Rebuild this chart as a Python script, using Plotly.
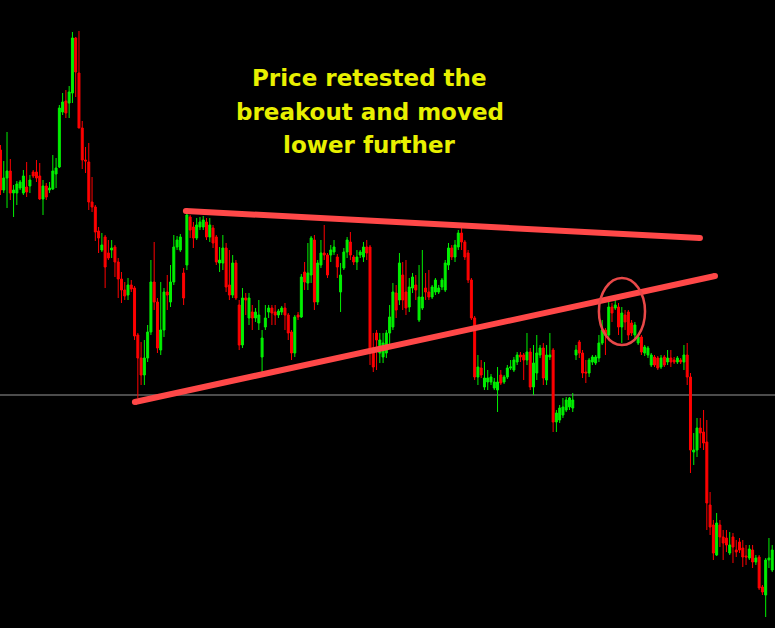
import plotly.graph_objects as go

# price in points, one candle per bar
open_ = [
    478, 438, 450, 457, 435, 435, 440, 435, 441, 442,
    456, 456, 452, 429, 442, 438, 439, 454, 461, 516,
    527, 525, 535, 590, 555, 500, 468, 466, 426, 421,
    397, 378, 391, 375, 378, 381, 366, 349, 338, 333,
    343, 340, 293, 270, 253, 270, 296, 346, 326, 278,
    298, 336, 326, 346, 381, 378, 355, 363, 411, 401,
    390, 401, 401, 406, 391, 400, 391, 365, 365, 380,
    343, 333, 365, 323, 283, 330, 310, 316, 310, 305,
    271, 301, 316, 320, 316, 313, 316, 320, 313, 296,
    275, 313, 311, 356, 345, 353, 388, 326, 363, 375,
    373, 373, 376, 371, 336, 360, 376, 386, 371, 366,
    373, 371, 381, 381, 280, 295, 275, 271, 275, 295,
    301, 335, 328, 353, 336, 321, 340, 343, 308, 320,
    340, 336, 331, 336, 336, 341, 338, 363, 380, 371,
    381, 395, 386, 375, 348, 310, 251, 260, 241, 246,
    246, 240, 238, 253, 246, 251, 260, 258, 266, 273,
    273, 268, 276, 241, 255, 273, 280, 248, 271, 278,
    206, 208, 213, 218, 221, 220, 273, 286, 275, 256,
    255, 266, 265, 270, 285, 298, 293, 321, 320, 321,
    301, 313, 316, 305, 293, 285, 291, 275, 273, 263,
    271, 270, 261, 271, 266, 270, 268, 266, 268, 266,
    273, 251, 176, 178, 200, 196, 186, 123, 103, 73,
    103, 91, 90, 75, 91, 78, 86, 80, 72, 70,
    78, 66, 71, 41, 33, 68, 58,
]
high = [
    483, 467, 496, 469, 443, 447, 448, 458, 466, 453,
    458, 468, 465, 448, 445, 446, 473, 470, 523, 535,
    538, 542, 596, 591, 597, 507, 481, 485, 451, 423,
    401, 395, 393, 388, 388, 383, 370, 356, 346, 350,
    348, 342, 295, 286, 288, 303, 368, 386, 330, 346,
    340, 353, 363, 393, 392, 394, 360, 416, 413, 406,
    410, 411, 412, 410, 410, 403, 393, 381, 393, 385,
    378, 373, 368, 328, 340, 335, 335, 323, 320, 328,
    298, 323, 323, 323, 323, 319, 322, 325, 315, 298,
    313, 316, 354, 366, 385, 392, 393, 368, 388, 403,
    375, 383, 388, 374, 365, 380, 391, 396, 373, 378,
    378, 386, 388, 383, 295, 298, 295, 295, 298, 323,
    345, 343, 375, 366, 368, 350, 355, 353, 363, 378,
    355, 358, 343, 350, 343, 350, 368, 385, 383, 388,
    398, 400, 388, 378, 350, 312, 273, 268, 266, 258,
    254, 250, 261, 258, 253, 263, 268, 271, 276, 276,
    275, 295, 280, 283, 293, 283, 285, 283, 295, 280,
    218, 223, 230, 231, 231, 235, 283, 288, 278, 268,
    270, 273, 273, 293, 308, 300, 328, 325, 330, 325,
    321, 318, 318, 308, 306, 293, 293, 283, 282, 275,
    273, 272, 273, 273, 278, 278, 271, 272, 270, 283,
    285, 255, 195, 210, 210, 218, 208, 136, 108, 115,
    108, 98, 98, 96, 95, 88, 90, 88, 83, 83,
    83, 73, 73, 43, 70, 90, 83,
]
low = [
    433, 435, 420, 428, 411, 423, 438, 433, 431, 435,
    450, 446, 428, 413, 428, 435, 438, 440, 460, 513,
    510, 510, 525, 531, 500, 459, 455, 418, 416, 387,
    375, 376, 340, 368, 370, 351, 330, 325, 328, 328,
    336, 288, 230, 243, 243, 266, 293, 318, 275, 273,
    291, 318, 321, 343, 378, 376, 323, 358, 390, 380,
    388, 398, 398, 388, 386, 380, 363, 356, 358, 336,
    328, 330, 328, 278, 280, 313, 303, 298, 306, 298,
    255, 298, 310, 303, 303, 310, 313, 298, 288, 268,
    271, 308, 310, 338, 338, 345, 318, 323, 360, 368,
    350, 366, 373, 350, 316, 358, 370, 368, 363, 358,
    370, 366, 368, 263, 256, 258, 265, 265, 270, 283,
    298, 310, 323, 318, 313, 316, 335, 328, 306, 318,
    328, 328, 329, 333, 334, 338, 336, 358, 368, 366,
    378, 378, 368, 345, 308, 248, 243, 250, 238, 238,
    243, 238, 216, 243, 244, 249, 258, 256, 263, 266,
    248, 263, 238, 233, 248, 270, 243, 243, 268, 196,
    196, 205, 210, 216, 218, 216, 268, 270, 250, 245,
    251, 263, 263, 266, 283, 273, 288, 306, 318, 293,
    285, 298, 288, 292, 290, 283, 273, 272, 270, 261,
    261, 258, 259, 261, 263, 261, 264, 264, 264, 258,
    243, 155, 163, 171, 180, 178, 98, 93, 68, 72,
    81, 68, 76, 73, 65, 71, 75, 61, 63, 68,
    60, 63, 38, 33, 11, 60, 56,
]
close = [
    438, 450, 457, 435, 438, 444, 446, 452, 436, 448,
    452, 450, 429, 442, 431, 440, 457, 460, 520, 526,
    515, 536, 590, 556, 500, 468, 467, 426, 421, 396,
    390, 383, 361, 370, 380, 366, 349, 338, 332, 343,
    339, 292, 270, 253, 270, 296, 346, 326, 280, 298,
    336, 333, 346, 381, 388, 391, 330, 413, 398, 390,
    403, 406, 408, 391, 403, 385, 366, 368, 380, 341,
    333, 365, 330, 283, 330, 328, 330, 310, 316, 313,
    290, 310, 320, 315, 313, 317, 320, 313, 295, 275,
    311, 311, 351, 346, 355, 390, 326, 365, 375, 373,
    353, 378, 381, 361, 353, 376, 388, 373, 366, 371,
    376, 381, 375, 278, 261, 288, 288, 285, 295, 311,
    336, 318, 365, 328, 320, 341, 351, 338, 331, 331,
    336, 331, 341, 348, 340, 348, 365, 380, 371, 383,
    395, 386, 371, 348, 310, 251, 261, 253, 250, 250,
    251, 246, 246, 245, 251, 260, 261, 268, 273, 271,
    268, 276, 241, 265, 275, 280, 250, 273, 273, 206,
    215, 220, 221, 228, 230, 228, 278, 275, 255, 255,
    268, 271, 271, 285, 298, 293, 321, 315, 323, 301,
    315, 306, 293, 295, 303, 291, 276, 281, 280, 273,
    263, 260, 270, 263, 270, 266, 266, 270, 266, 273,
    251, 178, 178, 200, 195, 185, 125, 101, 75, 105,
    91, 85, 83, 83, 81, 76, 78, 71, 71, 79,
    66, 70, 40, 36, 68, 70, 78,
]
bars = list(range(len(close)))

# drawn trendlines / markup (bar index, price)
upper_x, upper_y = [56.7, 213.9], [417, 390]
lower_x, lower_y = [41.1, 218.5], [226, 352]
retest_x, retest_y = [183.0, 197.1], [283, 350]
level = 233

notes = ["Price retested the", "breakout and moved", "lower further"]

GREEN, RED, LINE = "#00f000", "#ff0000", "#ff4848"

fig = go.Figure()
fig.add_trace(go.Candlestick(
    x=bars, open=open_, high=high, low=low, close=close,
    increasing=dict(line=dict(color=GREEN, width=1), fillcolor=GREEN),
    decreasing=dict(line=dict(color=RED, width=1), fillcolor=RED),
    whiskerwidth=0, hoverinfo="skip",
))

for xs, ys in [(upper_x, upper_y), (lower_x, lower_y)]:
    fig.add_trace(go.Scatter(x=xs, y=ys, mode="lines+markers",
                             line=dict(color=LINE, width=6),
                             marker=dict(color=LINE, size=6), hoverinfo="skip"))

fig.add_shape(type="line", xref="paper", x0=0, x1=1, y0=level, y1=level,
              line=dict(color="#666666", width=1.5), layer="below")
fig.add_shape(type="circle", x0=retest_x[0], x1=retest_x[1], y0=retest_y[0], y1=retest_y[1],
              line=dict(color="#e84848", width=2.5))

for i, t in enumerate(notes):
    fig.add_annotation(text=t, xref="paper", yref="paper", x=0.477, y=1 - (78 + 33.5 * i) / 628,
                       xanchor="center", yanchor="middle", showarrow=False,
                       font=dict(family="DejaVu Sans", size=23, color="#e8f000", weight="bold"))

fig.update_layout(
    width=775, height=628,
    margin=dict(l=0, r=0, t=0, b=0),
    plot_bgcolor="#000000", paper_bgcolor="#000000",
    showlegend=False, boxgap=0.25, boxgroupgap=0.2,
    xaxis=dict(range=[-0.15, 236.85], visible=False, rangeslider=dict(visible=False)),
    yaxis=dict(range=[0, 628], visible=False),
)

# page has a default 8px body margin; drop it so the chart fills the window
fig.write_html("out.html", config={"displayModeBar": False},
               post_script="document.body.style.margin='0';document.body.style.background='#000';")
